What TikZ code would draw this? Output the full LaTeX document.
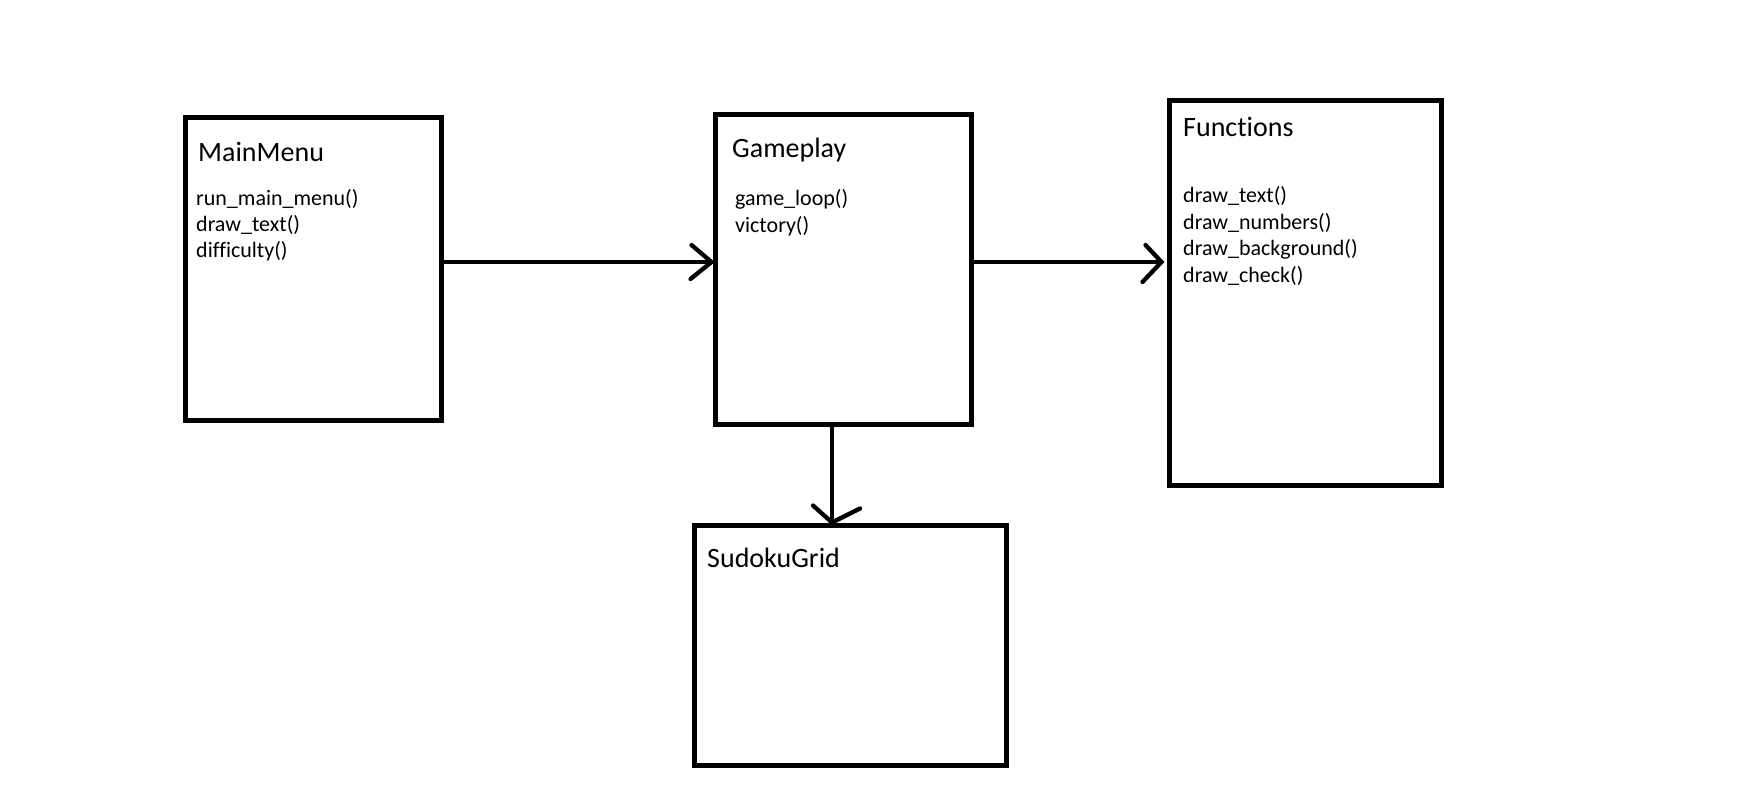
\documentclass[tikz,border=0pt]{standalone}
\usepackage{fontspec}
\setmainfont{Carlito}[Ligatures={NoCommon}]
\usetikzlibrary{calc}
\begin{document}
\begin{tikzpicture}[x=1pt,y=-1pt,
  box/.style={draw=black, line width=5pt, rectangle, inner sep=0pt},
  title/.style={anchor=base west, inner sep=0pt, font=\fontsize{28}{33}\selectfont},
  item/.style={anchor=base west, inner sep=0pt, font=\fontsize{22}{26}\selectfont},
  conn/.style={draw=black, line width=4.3pt},
  barb/.style={draw=black, line width=4.3pt, line cap=round, line join=miter}]
\useasboundingbox (0,0) rectangle (1761,810);

% class boxes
\node[box, minimum width=256pt, minimum height=302pt] (mm) at (313,269) {};
\node[box, minimum width=256pt, minimum height=309pt] (gp) at (843,269.5) {};
\node[box, minimum width=272pt, minimum height=384pt] (fn) at (1305,293) {};
\node[box, minimum width=312pt, minimum height=240pt] (sg) at (850,645) {};

% MainMenu
\node[title] (mmt) at (198,162) {MainMenu};
\node[item] (mm1) at (196,206) {run\_main\_menu()};
\node[item] (mm2) at (196,232) {draw\_text()};
\node[item] (mm3) at (196,258) {difficulty()};

% Gameplay
\node[title] (gpt) at (732,158) {Gameplay};
\node[item] (gp1) at (735,206) {game\_loop()};
\node[item] (gp2) at (735,232.5) {victory()};

% Functions
\node[title] (fnt) at (1183,137) {Functions};
\node[item] (fn1) at (1183,203) {draw\_text()};
\node[item] (fn2) at (1183,229.5) {draw\_numbers()};
\node[item] (fn3) at (1183,256) {draw\_background()};
\node[item] (fn4) at (1183,282.5) {draw\_check()};

% SudokuGrid
\node[title] (sgt) at (707,567) {SudokuGrid};

% MainMenu -> Gameplay
\coordinate (t1) at (gp.west |- 0,262);
\draw[conn] (mm.east |- 0,262) -- (t1);
\draw[barb] ($(t1)+(-21,-17)$) -- ($(t1)+(-1,0)$) -- ($(t1)+(-22,17)$);

% Gameplay -> Functions
\coordinate (t2) at ([xshift=-5pt]fn.west |- 0,262);
\draw[conn] (gp.east |- 0,262) -- (t2);
\draw[barb] ($(t2)+(-16,-17)$) -- (t2) -- ($(t2)+(-19,20)$);

% Gameplay -> SudokuGrid
\coordinate (t3) at (sg.north -| 832,0);
\draw[conn] (gp.south -| 832,0) -- (t3);
\draw[barb] ($(t3)+(-19,-17)$) -- (t3) -- ($(t3)+(28,-14)$);
\end{tikzpicture}
\end{document}
